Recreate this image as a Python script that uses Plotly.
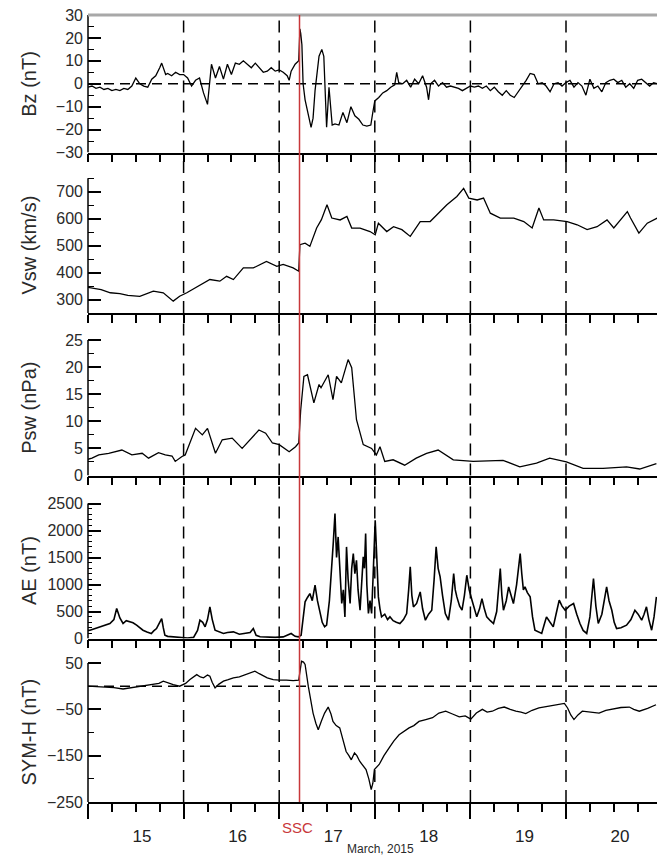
import plotly.graph_objects as go

# ---------------- data (time in hours since 15 March 2015 00 UT) ----------------
bz_hours = [0, 1, 2, 3, 4, 5, 6, 7, 8, 9, 10, 11, 12, 13, 14, 15, 16, 17, 18, 18.5, 19.5, 20, 21, 22, 23, 24,
            25, 26, 27, 28, 29, 30, 31, 32, 33, 34, 35, 36, 37, 38, 39, 40, 41, 42, 43, 44, 45, 46, 47, 48, 49,
            50, 50.5, 51, 52, 52.9, 53.2, 53.4, 53.7, 54, 54.5, 55, 56, 56.5, 57, 58, 58.7, 59.2, 59.6, 59.9,
            60.5, 61.3, 62, 63, 64, 65, 66, 67, 68, 69, 70, 71, 71.5, 72, 73, 74, 75, 76, 77, 77.5, 78, 79, 80,
            81, 82, 83, 84, 85, 85.5, 86, 87, 88, 89, 90, 91, 92, 93, 94, 95, 96, 97, 98, 99, 100, 101, 102,
            103, 104, 105, 106, 107, 108, 109, 110, 111, 112, 113, 114, 115, 116, 117, 118, 119, 120, 121, 122,
            123, 124, 125, 126, 127, 128, 129, 130, 131, 132, 133, 134, 135, 136, 137, 138, 139, 140, 141, 142, 143]
bz_values = [-1.5, -1, -2, -1.5, -2.5, -2, -3, -2.5, -3, -2, -2.5, -1, 2.5, 0, -1, -1.5, 2, 3.5, 7, 9, 4, 4.5, 3.5,
             5, 4, 4, 2.5, -1, 1.5, 2.5, -4, -9, 8.5, 2.5, 7.5, 2, 8.5, 4, 9, 8.5, 10, 8.5, 7, 9, 7, 5, 5.5, 7,
             5.5, 6, 5, 3.5, 1.5, 5.5, 8.5, 10, 24, 22, 17, 0, -7, -11, -19, -15, -3, 12, 15, 12, -7, -19,
             -1.5, -18, -17.5, -18, -12.5, -17, -10, -14, -15.5, -18, -18.5, -18, -12.5, -7.5, -6, -4, -3, -1.5,
             -0.5, 5, 0.5, 0, 1.5, -1.5, 2, 0, 3.5, -1.5, -7, 0, 1.5, -1, 0.5, -1.5, -1, -1.5, -2, -3, -2, -1,
             -1.5, -1, -2, -1, -3, -1.5, -3.5, -5, -3, -5, -6, -3.5, -1.5, 1.5, 4.5, 4, 0, 0.5, -1, -3.5, 0,
             0.5, -1, 0.5, 1.5, -1.5, 0.5, -1, -5, 2, -2, -1, -3.5, 0.5, 1.5, 2, 0.5, 1.5, -1.5, 0, -2, 1.5,
             2, 0.5, -1, 0.5, 0]

vsw_hours = [0, 1, 3.3, 5.6, 8, 10, 13, 16.4, 18.9, 21.4, 23, 24.8, 26.5, 28.1, 30.6, 33.1, 34.8, 36.5, 39,
             41.5, 44.8, 47.4, 49, 51.5, 52.9, 53.2, 54.5, 55.7, 56.5, 57.4, 58.6, 60, 61.2, 63.3, 65, 66.2,
             68.3, 70.8, 72.1, 72.9, 75, 76.7, 78.8, 80.9, 83.4, 85.9, 87.6, 90.1, 92.6, 94.3, 95.6, 97.7,
             99.3, 101, 103.5, 106.9, 109.4, 111.5, 113.2, 114.4, 116.9, 120.3, 122.8, 125.3, 127.8, 130.3,
             132, 135.4, 136.2, 138.3, 140.4, 142.9]
vsw_values = [345, 343, 337, 325, 322, 315, 312, 331, 325, 294, 312, 325, 340, 355, 374, 368, 386, 374, 417,
              417, 441, 423, 430, 417, 405, 503, 509, 497, 530, 565, 596, 651, 602, 595, 608, 565,
              565, 552, 540, 583, 552, 570, 559, 534, 589, 589, 614, 651, 682, 712, 676, 669,
              676, 620, 602, 602, 589, 565, 639, 595, 595, 589, 577, 559, 570, 595,
              565, 626, 602, 546, 583, 602]

psw_hours = [0, 1, 2.7, 5.2, 8.5, 11, 13.6, 15.2, 17.7, 19.4, 21.1, 21.9, 23.6, 24.4, 27, 28.7, 30, 32, 33.7,
             36.2, 38.7, 40.4, 42.9, 44.6, 46.3, 48, 50.5, 52.1, 52.9, 53.4, 54.2, 55.1, 56.7, 58, 58.5, 60.3,
             61.5, 62.4, 63.6, 65.3, 66.2, 67.4, 69.1, 71.2, 72.4, 73.3, 74.5, 76.6, 79.5, 82.4, 85, 87.9,
             91.7, 96.7, 104.2, 108.4, 112.6, 115.9, 120.1, 124.3, 129.3, 135.2, 138.5, 142.7]
psw_values = [3.0, 3.2, 3.8, 4.1, 4.7, 3.8, 4.1, 3.2, 4.2, 3.8, 3.6, 2.6, 3.5, 3.8, 8.7, 7.5, 8.7, 4.1, 6.6,
              6.9, 5.0, 6.3, 8.4, 7.8, 6.0, 5.7, 4.4, 5.3, 6.0, 12.1, 18.3, 18.6, 13.4, 16.8, 16.2, 18.6,
              14.0, 18.3, 17.1, 21.4, 19.9, 10.3, 5.7, 5.0, 3.8, 5.3, 2.6, 2.9, 1.9, 3.2, 4.1, 4.7,
              2.9, 2.6, 2.8, 1.6, 2.3, 3.2, 2.5, 1.3, 1.3, 1.6, 1.2, 2.2]

ae_hours = [0, 0.5, 2, 3, 4, 5.5, 6.5, 7.2, 8, 8.8, 9.6, 10.5, 11.3, 12.2, 13, 13.8, 14.8, 15.9, 16.5, 17.2,
            18, 18.5, 18.9, 19.3, 20, 21.4, 23, 25, 26.5, 27.5, 28.1, 28.8, 29.4, 30, 30.6, 31.2, 31.9, 33,
            34, 35, 36.5, 38, 39.8, 40.7, 41.5, 42.2, 43.2, 45, 47, 49, 50, 51, 52, 52.8, 53.5, 54.5, 55.1,
            55.7, 56.3, 57, 57.6, 58.2, 58.8, 59.4, 59.9, 60.6, 61.2, 61.6, 62, 62.4, 62.8, 63.2, 63.7, 64.1,
            64.5, 64.9, 65.3, 65.8, 66.2, 66.6, 67, 67.4, 67.8, 68.3, 68.7, 69.1, 69.4, 69.7, 70, 70.4, 70.8,
            71.2, 71.6, 72.1, 72.5, 72.9, 73.3, 73.7, 74.5, 75.2, 75.8, 76.6, 77.4, 78.3, 79.2, 80, 80.5,
            80.9, 81.3, 81.7, 82.5, 83.4, 84, 84.7, 85.5, 86.3, 86.9, 87.4, 87.9, 88.4, 89, 89.7, 90.5, 91.2,
            91.8, 92.2, 92.6, 93.3, 93.9, 94.5, 95.1, 95.7, 96.4, 97, 97.6, 98.3, 98.9, 99.5, 100.1, 101,
            101.8, 102.6, 103.1, 103.5, 103.9, 104.3, 105, 105.6, 106.2, 106.8, 107.6, 108.1, 108.5, 108.9,
            109.3, 109.7, 110.3, 111, 111.6, 112.2, 113, 113.9, 114.5, 115.1, 116, 116.8, 117.5, 118.3, 119,
            119.8, 120.8, 121.9, 122.7, 123.5, 124.3, 125.2, 126, 126.5, 126.9, 127.5, 128.1, 129, 129.7,
            130.2, 130.8, 131.5, 132.1, 132.7, 133.8, 135.2, 136.3, 137.3, 138.1, 139, 139.6, 140.2, 140.8,
            141.5, 142.1, 142.7]
ae_values = [150, 154, 190, 216, 240, 278, 350, 555, 380, 278, 330, 308, 290, 247, 200, 154, 120, 93, 140, 185,
             300, 370, 200, 62, 40, 31, 15, 10, 20, 150, 339, 300, 216, 350, 586, 350, 154, 120,
             93, 110, 123, 80, 93, 110, 185, 60, 31, 25, 20, 30, 60, 93, 40, 30, 60, 679, 760,
             833, 700, 987, 700, 463, 300, 216, 247, 700, 1265, 1800, 2314, 1500, 1882, 1200, 648, 900,
             401, 1697, 1100, 648, 1300, 1573, 1200, 1450, 900, 524, 1100, 1512, 1300, 1944, 1000, 463, 700,
             463, 1200, 2190, 1500, 771, 550, 401, 450, 350, 401, 330, 300, 278, 350, 463, 900,
             1327, 800, 586, 650, 864, 550, 339, 450, 524, 1100, 1697, 1300, 1141, 800, 463, 339, 700,
             1203, 900, 771, 600, 524, 800, 1172, 900, 710, 550, 401, 550, 740, 550, 401, 330,
             278, 500, 900, 1296, 800, 524, 700, 956, 800, 648, 1000, 1400, 1573, 1200,
             900, 956, 850, 771, 400, 154, 120, 93, 250, 401, 300, 216, 450, 710, 600,
             524, 600, 648, 450, 278, 150, 93, 400, 800, 1111, 600, 278, 450, 800,
             956, 700, 524, 300, 185, 200, 247, 350, 524, 450, 339, 450, 586, 350,
             154, 400, 771]

symh_hours = [0, 2, 4.7, 6.5, 8.8, 11, 13, 14.5, 16.4, 17.8, 18.9, 20, 21.4, 23, 24.5, 25.6, 26.5, 27.3, 28.2,
              29, 30, 30.6, 31.2, 31.9, 32.8, 34, 35.2, 36.5, 38, 39.8, 40.8, 41.9, 43, 44, 45, 46.5, 48,
              49.8, 51.5, 52.9, 53.3, 53.6, 54.1, 54.5, 55.3, 56, 56.5, 57.2, 57.8, 58.6, 59.4, 60.3, 61,
              61.5, 62.3, 63.2, 64, 64.8, 65.5, 66.1, 66.9, 67.5, 68.2, 69, 69.8, 70.5, 71.1, 71.5, 71.9,
              73.1, 74.3, 75.6, 76.8, 78.1, 79.3, 80.6, 81.8, 83.1, 84.8, 86.5, 88.1, 89.8, 91.5, 93.2, 94.7,
              96.1, 97.5, 99, 100.2, 101.5, 103, 104.5, 106, 107.4, 108.7, 109.9, 111.5, 113.2, 115, 116.6,
              118.1, 119.6, 120.4, 121.2, 122, 123, 124.1, 126.2, 128.3, 130, 131.7, 133.8, 135.9, 137,
              138.4, 140.5, 142.6]
symh_values = [0, -1, -1.5, -3, -6, -3, -1.5, 1, 3.6, 6, 10.8, 7, 3.6, 0, 6, 14.4, 20, 25, 20,
               18, 24, 21.6, 8, -3.6, 4, 10.8, 14, 18, 20, 25, 28, 32.4, 27, 21.6, 18, 14.4, 13,
               13, 12, 13, 45, 54, 52, 47, 0, -35, -58, -80, -94, -75, -58, -45, -60,
               -76, -85, -90, -115, -141, -150, -159, -144, -150, -162, -170, -180, -200, -223, -210, -180,
               -169, -150, -133, -118, -105, -98, -90, -85, -76, -72, -68, -58, -54, -60, -66, -64,
               -71, -58, -50, -56, -54, -48, -45, -50, -54, -56, -59, -52, -47, -44, -42,
               -40, -37, -47, -62, -72, -62, -54, -56, -58, -52, -49, -46, -45, -50,
               -54, -48, -40]

ssc_hour = 53.1
day_ticks = [15, 16, 17, 18, 19, 20]
day_labels = ["15", "16", "17", "18", "19", "20"]
boundary_days = [16, 17, 18, 19, 20]

titles = ["Bz (nT)", "Vsw (km/s)", "Psw (nPa)", "AE (nT)", "SYM-H (nT)"]
y_ranges = [[-30, 30], [250, 845], [0, 30], [0, 3020], [-250, 103]]
y_lines = [[-30, 30], [250, 750], [0, 25], [0, 2500], [-250, 50]]
y_major = [[-30, -20, -10, 0, 10, 20, 30], [300, 400, 500, 600, 700], [0, 5, 10, 15, 20, 25],
           [0, 500, 1000, 1500, 2000, 2500], [-250, -150, -50, 50]]
y_minor = [[-25, -15, -5, 5, 15, 25], [250, 350, 450, 550, 650, 750], [2.5, 7.5, 12.5, 17.5, 22.5],
           [v for v in range(100, 2500, 100) if v % 500], [-200, -100, 0]]
zero_line_panels = [0, 4]


def to_day(hours):
    return [15 + h / 24 for h in hours]


series = [(bz_hours, bz_values, 1.3), (vsw_hours, vsw_values, 1.3), (psw_hours, psw_values, 1.3),
          (ae_hours, ae_values, 1.6), (symh_hours, symh_values, 1.3)]

# ---------------- layout geometry ----------------
W, H = 657, 859
ML, MR, MT, MB = 88, 0, 15, 57
plot_h = H - MT - MB
bounds_px = [15, 152.5, 313, 475.5, 638.5, 802]
domains = [[(802 - bounds_px[i + 1]) / plot_h, (802 - bounds_px[i]) / plot_h] for i in range(5)]
x_end = 15 + (W - ML - MR) / 95.6

FONT = "Liberation Sans, Arial, sans-serif"
fig = go.Figure()

for i, (hrs, vals, lw) in enumerate(series):
    k = "" if i == 0 else str(i + 1)
    fig.add_trace(go.Scatter(x=to_day(hrs), y=vals, mode="lines",
                             line=dict(color="black", width=lw),
                             xaxis="x" + k, yaxis="y" + k, showlegend=False, hoverinfo="skip"))

layout = dict(width=W, height=H, margin=dict(l=ML, r=MR, t=MT, b=MB),
              plot_bgcolor="white", paper_bgcolor="white", showlegend=False)

for i in range(5):
    k = "" if i == 0 else str(i + 1)
    bottom = (i == 4)
    xa = dict(domain=[0, 1], anchor="y" + k, range=[15, x_end], showline=True, linecolor="black",
              linewidth=1.5, showgrid=False, zeroline=False, ticks="outside",
              tickmode="array", tickvals=day_ticks, ticklen=15 if bottom else 8, tickwidth=1.5,
              tickcolor="black",
              minor=dict(ticks="outside", dtick=0.25, tick0=15, ticklen=8, tickwidth=1.5, tickcolor="black"),
              showticklabels=bottom)
    if bottom:
        xa.update(ticktext=day_labels, ticklabelshift=54, ticklabelstandoff=3,
                  tickfont=dict(family=FONT, size=17, color="#222"))
    if i > 0:
        xa["matches"] = "x"
    ya = dict(domain=domains[i], anchor="x" + k, range=y_ranges[i], showline=False, showgrid=False,
              zeroline=False, ticks="inside", tickmode="array", tickvals=y_major[i], ticklen=13,
              tickwidth=1.5, tickcolor="black", ticklabelstandoff=4,
              minor=dict(ticks="inside", tickmode="array", tickvals=y_minor[i],
                         ticklen=4 if i == 3 else 6, tickwidth=1.3, tickcolor="black"),
              tickfont=dict(family=FONT, size=16, color="#2a2a2a"))
    layout["xaxis" + k] = xa
    layout["yaxis" + k] = ya

fig.update_layout(**layout)

shapes = []
ssc_day = 15 + ssc_hour / 24
for i in range(5):
    k = "" if i == 0 else str(i + 1)
    # left axis line over the labelled extent
    shapes.append(dict(type="line", xref="paper", yref="y" + k, x0=0, x1=0,
                       y0=y_lines[i][0], y1=y_lines[i][1], line=dict(color="black", width=1.5)))
    for d in boundary_days:
        shapes.append(dict(type="line", xref="x" + k, yref="y" + k, x0=d, x1=d,
                           y0=y_ranges[i][0], y1=y_ranges[i][1],
                           line=dict(color="black", width=1.5, dash="12px,8px")))
for i in zero_line_panels:
    k = "" if i == 0 else str(i + 1)
    shapes.append(dict(type="line", xref="paper", yref="y" + k, x0=0, x1=1, y0=0, y1=0,
                       line=dict(color="black", width=1.5, dash="10px,6px")))
# top frame (grey) and SSC line
shapes.append(dict(type="line", xref="paper", yref="paper", x0=0, x1=1, y0=1, y1=1,
                   line=dict(color="#a8a8a8", width=3)))
shapes.append(dict(type="line", xref="x5", yref="paper", x0=ssc_day, x1=ssc_day, y0=0, y1=1,
                   line=dict(color="#c8383a", width=1.5)))
fig.update_layout(shapes=shapes)

annotations = []
for i in range(5):
    k = "" if i == 0 else str(i + 1)
    annotations.append(dict(text=titles[i], xref="paper", yref="y" + k, x=(29 - ML) / (W - ML),
                            y=(y_lines[i][0] + y_lines[i][1]) / 2, textangle=-90, showarrow=False,
                            xanchor="center", yanchor="middle",
                            font=dict(family=FONT, size=20, color="#2a2a2a")))
annotations.append(dict(text="SSC", xref="x5", yref="paper", x=ssc_day, y=(802 - 827) / plot_h,
                        xshift=-2, showarrow=False, xanchor="center", yanchor="middle",
                        font=dict(family=FONT, size=15, color="#c8383a")))
annotations.append(dict(text="March, 2015", xref="paper", yref="paper", x=(381 - ML) / (W - ML),
                        y=(802 - 858) / plot_h, showarrow=False, xanchor="center", yanchor="bottom",
                        font=dict(family=FONT, size=12, color="#2a2a2a")))
fig.update_layout(annotations=annotations)

fig.write_html("out.html", config={"displayModeBar": False},
               post_script="document.body.style.margin='0';document.body.style.padding='0';")
